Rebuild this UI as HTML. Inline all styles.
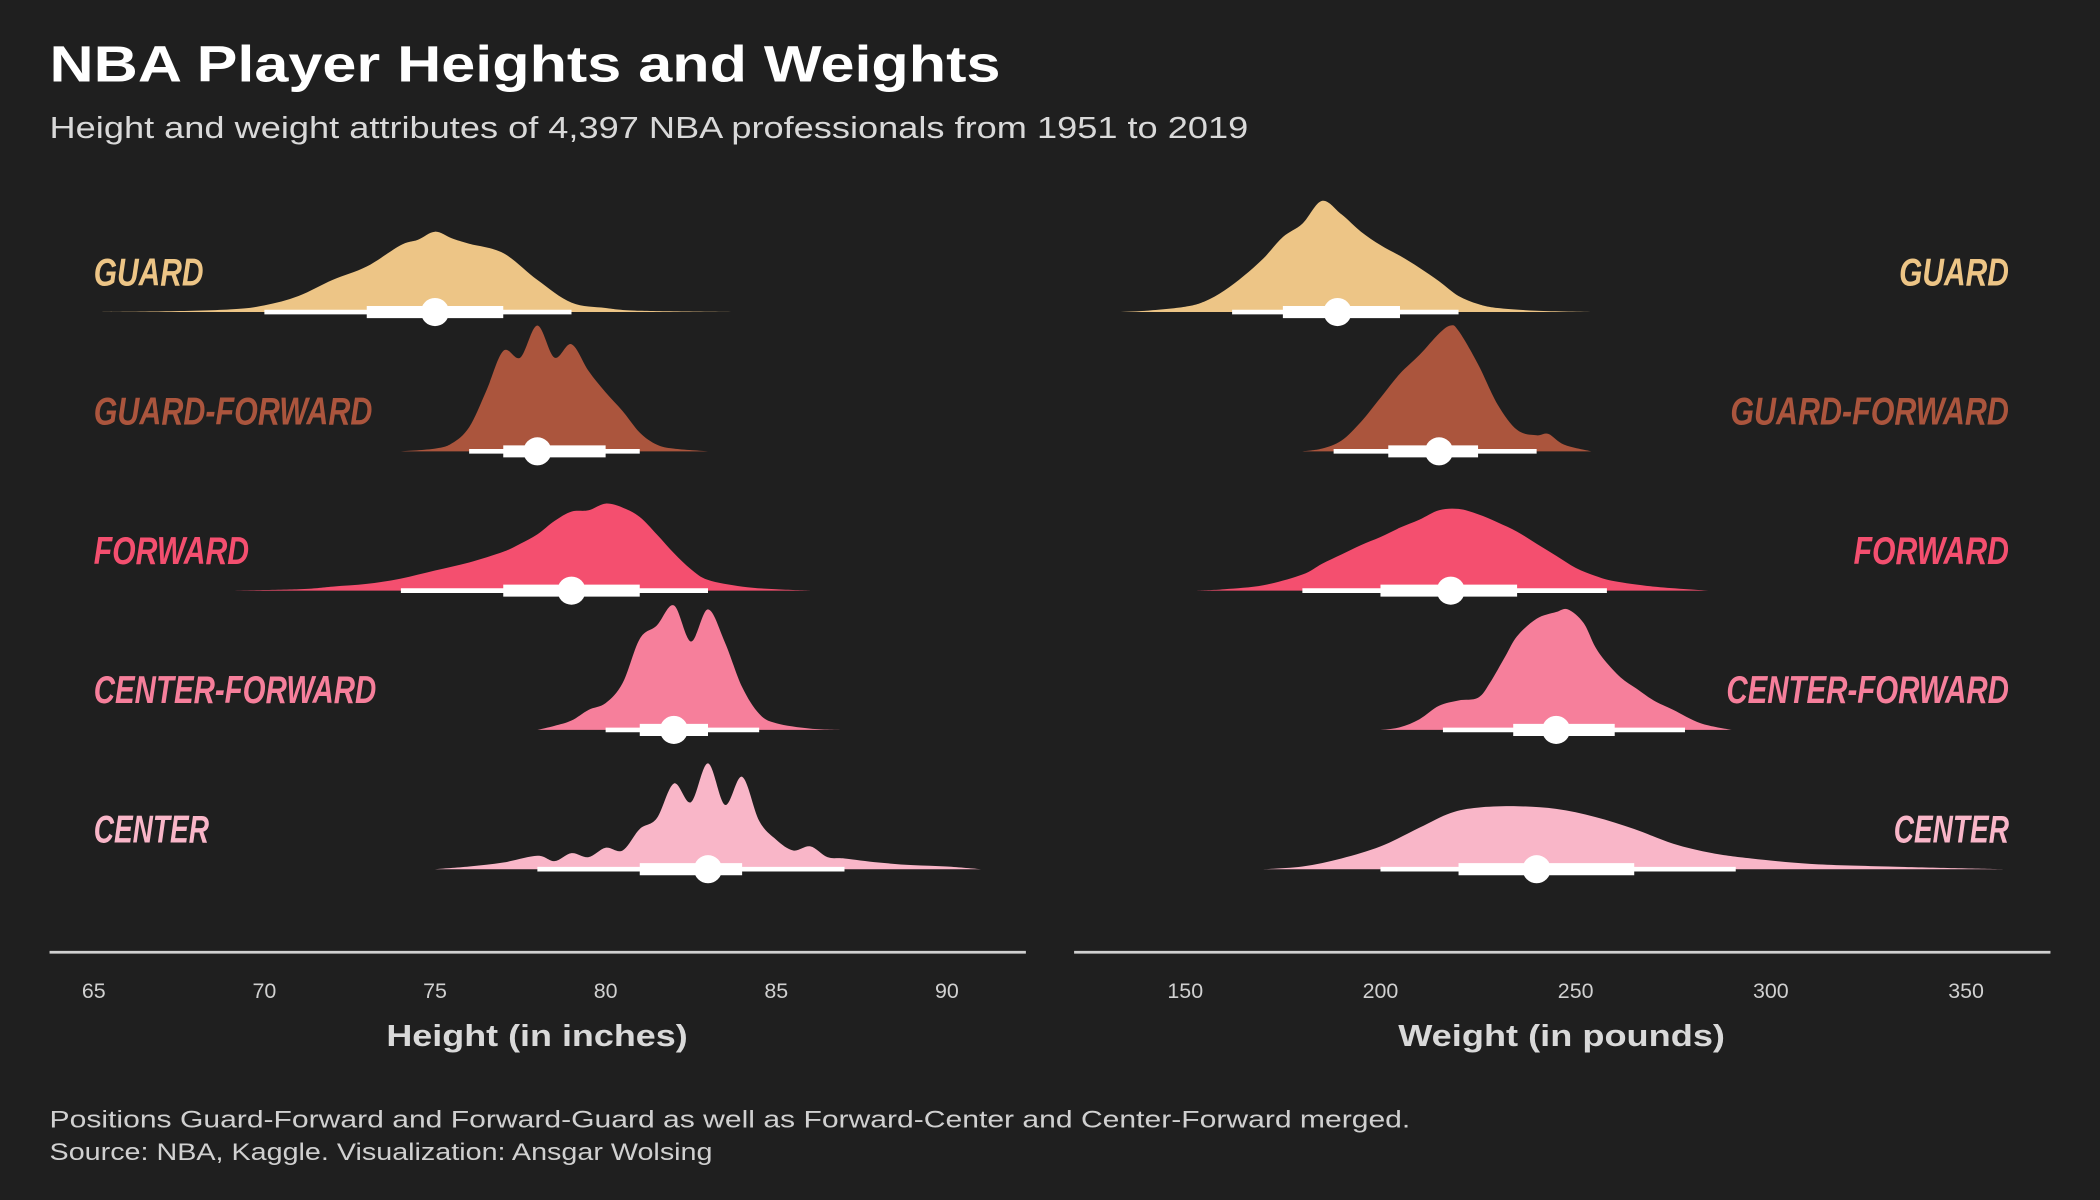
<!DOCTYPE html>
<html><head><meta charset="utf-8"><style>
html,body{margin:0;padding:0;background:#1f1f1f;}
svg{display:block;}
text{font-family:"Liberation Sans","DejaVu Sans",sans-serif;}
</style></head><body>
<svg id="chart" width="2100" height="1200" viewBox="0 0 1568 896" xmlns="http://www.w3.org/2000/svg">
<rect width="1568" height="896" fill="#1f1f1f"/>
<text x="37" y="61" font-size="38" font-weight="bold" fill="#ffffff" textLength="710" lengthAdjust="spacingAndGlyphs">NBA Player Heights and Weights</text>
<text x="37" y="103" font-size="23" fill="#d9d9d9" textLength="895" lengthAdjust="spacingAndGlyphs">Height and weight attributes of 4,397 NBA professionals from 1951 to 2019</text>
<g id="left"></g>
<g id="right"></g>
<line x1="37" y1="711" x2="766" y2="711" stroke="#d0d0d0" stroke-width="2"/>
<line x1="802" y1="711" x2="1531" y2="711" stroke="#d0d0d0" stroke-width="2"/>
<text x="401" y="781" font-size="23" font-weight="bold" fill="#d9d9d9" text-anchor="middle" textLength="225" lengthAdjust="spacingAndGlyphs">Height (in inches)</text>
<text x="1166" y="781" font-size="23" font-weight="bold" fill="#d9d9d9" text-anchor="middle" textLength="244" lengthAdjust="spacingAndGlyphs">Weight (in pounds)</text>
<text x="37" y="842" font-size="18" fill="#d0d0d0" textLength="1016" lengthAdjust="spacingAndGlyphs">Positions Guard-Forward and Forward-Guard as well as Forward-Center and Center-Forward merged.</text>
<text x="37" y="866" font-size="18" fill="#d0d0d0" textLength="495" lengthAdjust="spacingAndGlyphs">Source: NBA, Kaggle. Visualization: Ansgar Wolsing</text>
</svg>
<script>
const positions = ["GUARD","GUARD-FORWARD","FORWARD","CENTER-FORWARD","CENTER"];
const colors = ["#edc586","#ab553d","#f44f6f","#f67f9b","#f9b6c8"];
const labelWidths = [82,208,116,211,86];
const heightTicks = [65,70,75,80,85,90];
const weightTicks = [150,200,250,300,350];
const hGuardX = [65,67,69,70,71,72,73,74,74.5,75,75.5,76,77,78,79,80,81,84];
const hGuardY = [0,0.5,2,5,12,24,34,50,54,60,55,51,44,24,7,3,1,0];
const hGFX = [74,75,75.5,76,76.5,77,77.5,78,78.5,79,79.5,80,80.5,81,81.5,82,83];
const hGFY = [0,2,6,18,45,75,70,94,70,80,60,44,30,14,5,2,0];
const hFX = [69,71,72,73,74,75,76,77,77.5,78,78.5,79,79.5,80,80.5,81,81.5,82,82.5,83,84,85,86];
const hFY = [0,1,3,5,9,15,21,29,35,42,52,59,60,65,62,55,42,28,16,8,3,1,0];
const hCFX = [78,78.5,79,79.5,80,80.5,81,81.5,82,82.5,83,83.5,84,84.5,85,86,87];
const hCFY = [0,3,7,15,20,35,68,78,93,66,90,65,32,12,5,1,0];
const hCX = [75,76,77,78,78.5,79,79.5,80,80.5,81,81.5,82,82.5,83,83.5,84,84.5,85,85.5,86,86.5,87,88,89,90,91];
const hCY = [0,2,5,10,6,12,9,16,14,30,38,64,50,79,48,69,36,22,14,17,9,8,5,3,2,0];
const wGuardX = [133,140,150,155,160,165,170,175,180,185,190,195,200,205,210,215,220,225,230,240,255];
const wGuardY = [0,1,4,8,16,27,40,56,66,83,73,60,50,42,33,23,12,6,3,1,0];
const wGFX = [180,185,190,195,200,205,210,215,218,220,225,230,235,240,243,247,254];
const wGFY = [0,2,8,22,40,58,72,88,94,90,65,35,16,12,13,5,0];
const wFX = [153,160,170,180,185,190,195,200,205,210,215,220,225,230,235,240,245,250,255,260,270,284];
const wFY = [0,1,4,12,20,27,34,40,47,53,60,61,57,51,44,35,26,17,11,7,3,0];
const wCFX = [200,205,210,215,220,225,228,232,235,240,245,248,252,255,258,262,266,270,275,282,290];
const wCFY = [0,2,8,18,22,24,35,55,70,83,88,90,80,62,50,38,30,22,15,5,0];
const wCX = [170,180,190,200,210,218,225,235,245,255,265,275,285,295,310,330,360];
const wCY = [0,2,8,17,31,42,46,47,45,39,30,19,12,8,4,2,0];
const hIntervals = [[70,73,75,77,79],[76,77,78,80,81],[74,77,79,81,83],[80,81,82,83,84.5],[78,81,83,84,87]];
const wIntervals = [[162,175,189,205,220],[188,202,215,225,240],[180,200,218,235,258],[216,234,245,260,278],[200,220,240,265,291]];

const hX = [hGuardX,hGFX,hFX,hCFX,hCX], hY = [hGuardY,hGFY,hFY,hCFY,hCY];
const wX = [wGuardX,wGFX,wFX,wCFX,wCX], wY = [wGuardY,wGFY,wFY,wCFY,wCY];

const NS = "http://www.w3.org/2000/svg";
const xH = v => 70 + (v-65)*(707-70)/25;
const xW = v => 885 + (v-150)*(1468-885)/200;
const base = i => 233 + i*104;
const yScale = d => d*1.0;

function smoothPath(pts){
  let d = "M"+pts[0][0]+","+pts[0][1];
  for(let i=0;i<pts.length-1;i++){
    const p0=pts[Math.max(0,i-1)],p1=pts[i],p2=pts[i+1],p3=pts[Math.min(pts.length-1,i+2)];
    const c1=[p1[0]+(p2[0]-p0[0])/6,p1[1]+(p2[1]-p0[1])/6];
    const c2=[p2[0]-(p3[0]-p1[0])/6,p2[1]-(p3[1]-p1[1])/6];
    d+=" C"+c1[0].toFixed(1)+","+c1[1].toFixed(1)+" "+c2[0].toFixed(1)+","+c2[1].toFixed(1)+" "+p2[0].toFixed(1)+","+p2[1].toFixed(1);
  }
  return d;
}
function el(tag, attrs, parent){
  const e=document.createElementNS(NS,tag);
  for(const k in attrs) e.setAttribute(k,attrs[k]);
  parent.appendChild(e); return e;
}
function slug(s){return s.toLowerCase();}
function drawPanel(g, xs, ys, ints, sx, side){
  for(let i=0;i<positions.length;i++){
    const b=base(i);
    const pts=xs[i].map((v,j)=>[sx(v), b-yScale(ys[i][j])]);
    const d=smoothPath(pts)+" L"+pts[pts.length-1][0]+","+b+" L"+pts[0][0]+","+b+" Z";
    const p=el("path",{d:d,fill:colors[i]},g);
    
    
    const iv=ints[i];
    const t=el("line",{x1:sx(iv[0]),x2:sx(iv[4]),y1:b,y2:b,stroke:"#fff","stroke-width":3.5},g);
    
    
    const k=el("line",{x1:sx(iv[1]),x2:sx(iv[3]),y1:b,y2:b,stroke:"#fff","stroke-width":9},g);
    
    
    const c=el("circle",{cx:sx(iv[2]),cy:b,r:10.5,fill:"#fff"},g);
    
    
    const lab=el("text",{y:b-20,"font-size":29,"font-weight":"bold","font-style":"italic",fill:colors[i],textLength:labelWidths[i],lengthAdjust:"spacingAndGlyphs"},g);
    if(side==="height"){lab.setAttribute("x",70);} else {lab.setAttribute("x",1500-labelWidths[i]);}
    lab.textContent=positions[i];
    
    
  }
}
const L=document.getElementById("left"), R=document.getElementById("right");
drawPanel(L,hX,hY,hIntervals,xH,"height");
drawPanel(R,wX,wY,wIntervals,xW,"weight");
heightTicks.forEach(v=>{
  const t=el("text",{x:xH(v),y:745,"font-size":16,fill:"#d0d0d0","text-anchor":"middle"},L);
  t.textContent=v;
  
  
});
weightTicks.forEach(v=>{
  const t=el("text",{x:xW(v),y:745,"font-size":16,fill:"#d0d0d0","text-anchor":"middle"},R);
  t.textContent=v;
  
  
});
</script>
</body></html>
